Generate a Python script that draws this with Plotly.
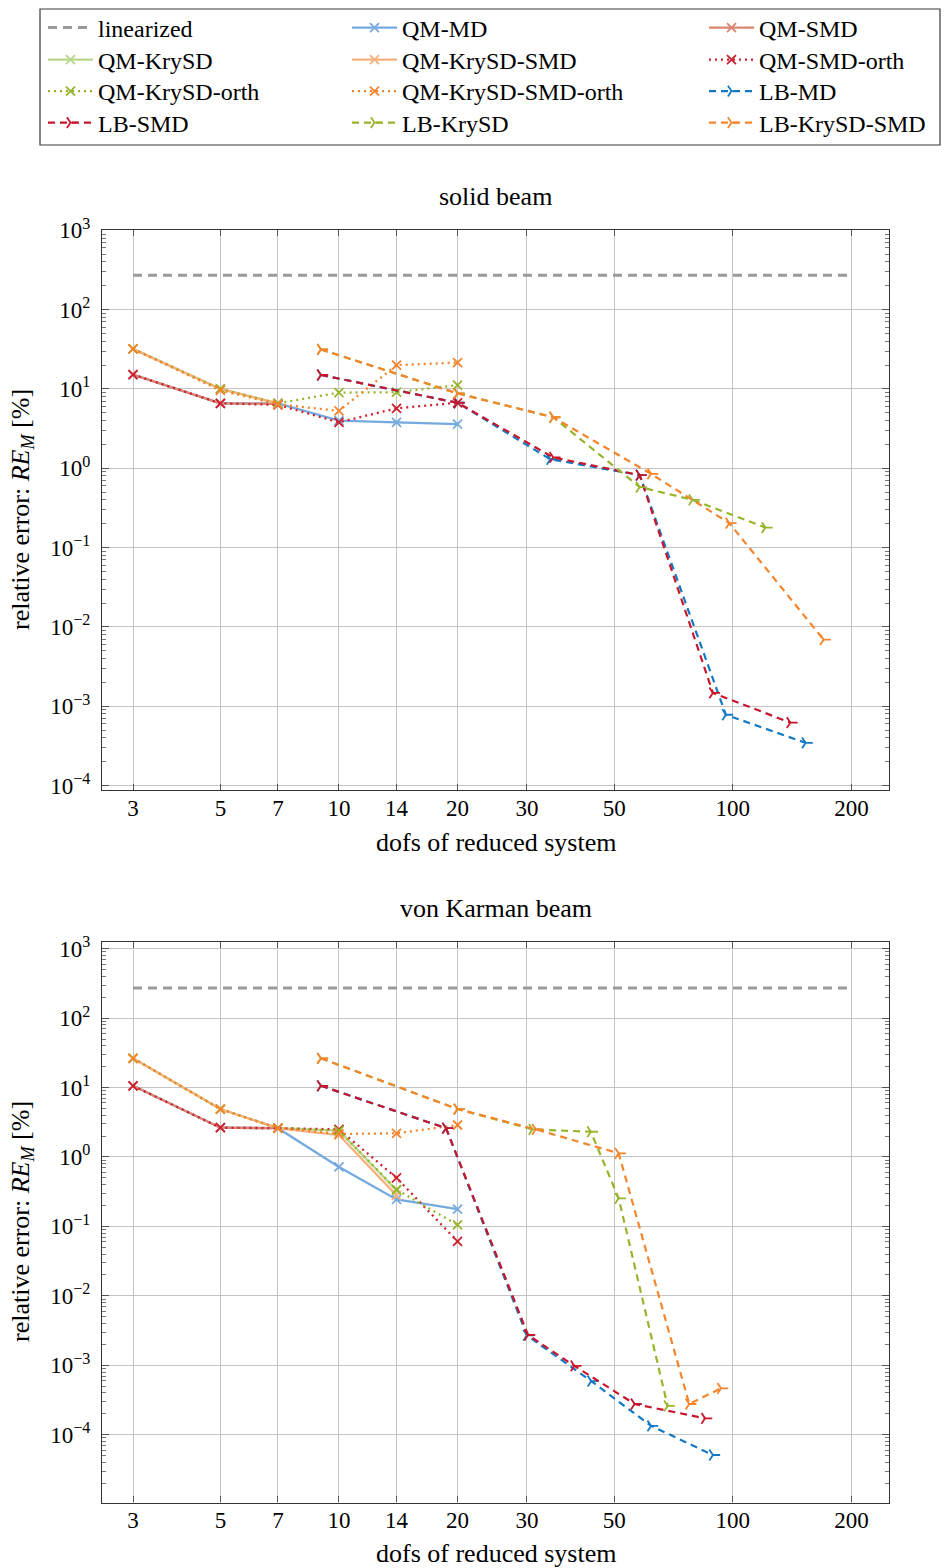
import plotly.graph_objects as go
from plotly.subplots import make_subplots

# ---------------- data ----------------
LIN_X = [3, 200]
solid_lin_y = [272, 272]
karman_lin_y = [272, 272]

# solid beam
solid_qm_md_x = [3, 5, 7, 10, 14, 20]
solid_qm_md_y = [15.2, 6.6, 6.6, 4.0, 3.8, 3.6]
solid_qm_smd_x = [3, 5, 7]
solid_qm_smd_y = [15.2, 6.6, 6.5]
solid_qm_krysd_x = [3, 5, 7]
solid_qm_krysd_y = [32, 10, 6.6]
solid_qm_krysd_smd_x = [3, 5, 7]
solid_qm_krysd_smd_y = [32, 10, 6.6]
solid_qm_smd_orth_x = [3, 5, 7, 10, 14, 20]
solid_qm_smd_orth_y = [15.2, 6.6, 6.3, 3.8, 5.7, 6.7]
solid_qm_krysd_orth_x = [3, 5, 7, 10, 14, 20]
solid_qm_krysd_orth_y = [32, 10, 6.6, 9.0, 9.1, 11.2]
solid_qm_krysd_smd_orth_x = [3, 5, 7, 10, 14, 20]
solid_qm_krysd_smd_orth_y = [32, 9.6, 6.4, 5.3, 20, 21.5]
solid_lb_md_x = [9, 20, 34.4, 58, 96, 153]
solid_lb_md_y = [15, 6.7, 1.30, 0.82, 7.8e-4, 3.45e-4]
solid_lb_smd_x = [9, 20, 35, 58, 89, 140]
solid_lb_smd_y = [15, 6.7, 1.37, 0.82, 1.47e-3, 6.2e-4]
solid_lb_krysd_x = [9, 20, 35, 58, 79, 121]
solid_lb_krysd_y = [31.5, 8.8, 4.4, 0.58, 0.40, 0.179]
solid_lb_krysd_smd_x = [9, 20, 35, 62, 98, 170]
solid_lb_krysd_smd_y = [31.5, 8.8, 4.4, 0.85, 0.203, 0.0069]

# von Karman beam
karman_qm_md_x = [3, 5, 7, 10, 14, 20]
karman_qm_md_y = [10.6, 2.64, 2.6, 0.72, 0.245, 0.177]
karman_qm_smd_x = [3, 5, 7]
karman_qm_smd_y = [10.6, 2.64, 2.6]
karman_qm_krysd_x = [3, 5, 7, 10, 14]
karman_qm_krysd_y = [26.4, 4.9, 2.6, 2.39, 0.33]
karman_qm_krysd_smd_x = [3, 5, 7, 10, 14]
karman_qm_krysd_smd_y = [26.4, 4.9, 2.6, 2.07, 0.28]
karman_qm_smd_orth_x = [3, 5, 7, 10, 14, 20]
karman_qm_smd_orth_y = [10.6, 2.64, 2.6, 2.5, 0.5, 0.061]
karman_qm_krysd_orth_x = [3, 5, 7, 10, 14, 20]
karman_qm_krysd_orth_y = [26.4, 4.9, 2.6, 2.4, 0.34, 0.105]
karman_qm_krysd_smd_orth_x = [3, 5, 7, 10, 14, 20]
karman_qm_krysd_smd_orth_y = [26.4, 4.9, 2.6, 2.15, 2.19, 2.89]
karman_lb_md_x = [9, 18.7, 30, 43.7, 62, 89]
karman_lb_md_y = [10.6, 2.6, 2.7e-3, 5.9e-4, 1.34e-4, 5.1e-5]
karman_lb_smd_x = [9, 18.7, 30.2, 39.6, 56.3, 85]
karman_lb_smd_y = [10.6, 2.6, 2.73e-3, 9.8e-4, 2.77e-4, 1.72e-4]
karman_lb_krysd_x = [9, 20, 31, 43.6, 51.3, 68.3]
karman_lb_krysd_y = [26.4, 4.9, 2.5, 2.31, 0.254, 2.6e-4]
karman_lb_krysd_smd_x = [9, 20, 31.6, 51.3, 77.5, 93.3]
karman_lb_krysd_smd_y = [26.4, 4.9, 2.5, 1.13, 2.77e-4, 4.66e-4]

X_TICKS = [3, 5, 7, 10, 14, 20, 30, 50, 100, 200]
Y_TICKS = [1e-4, 1e-3, 1e-2, 1e-1, 1, 10, 100, 1000]
Y_TICKTEXT = ["10<sup>\u22124</sup>", "10<sup>\u22123</sup>", "10<sup>\u22122</sup>",
              "10<sup>\u22121</sup>", "10<sup>0</sup>", "10<sup>1</sup>",
              "10<sup>2</sup>", "10<sup>3</sup>"]

# ---------------- styles ----------------
FONT = "Liberation Serif"
DASH = "7px,5px"
DOT = "2px,4px"

STYLES = {
    "linearized": dict(color="#9a9a9a", dash="9px,6px", width=3, symbol=None),
    "QM-MD": dict(color="#74aadf", dash="solid", width=2.3, symbol="x-thin"),
    "QM-SMD": dict(color="#dc8470", dash="solid", width=2.3, symbol="x-thin"),
    "QM-KrySD": dict(color="#b8d78c", dash="solid", width=2.3, symbol="x-thin"),
    "QM-KrySD-SMD": dict(color="#f6b07c", dash="solid", width=2.3, symbol="x-thin"),
    "QM-SMD-orth": dict(color="#d0202e", dash=DOT, width=2.3, symbol="x-thin"),
    "QM-KrySD-orth": dict(color="#96b52a", dash=DOT, width=2.3, symbol="x-thin"),
    "QM-KrySD-SMD-orth": dict(color="#f5852c", dash=DOT, width=2.3, symbol="x-thin"),
    "LB-MD": dict(color="#1479c4", dash=DASH, width=2.2, symbol="y-right"),
    "LB-SMD": dict(color="#c8162c", dash=DASH, width=2.2, symbol="y-right"),
    "LB-KrySD": dict(color="#96b52a", dash=DASH, width=2.2, symbol="y-right"),
    "LB-KrySD-SMD": dict(color="#f5852c", dash=DASH, width=2.2, symbol="y-right"),
}

solid = [
    ("linearized", LIN_X, solid_lin_y),
    ("QM-MD", solid_qm_md_x, solid_qm_md_y),
    ("QM-SMD", solid_qm_smd_x, solid_qm_smd_y),
    ("QM-KrySD", solid_qm_krysd_x, solid_qm_krysd_y),
    ("QM-KrySD-SMD", solid_qm_krysd_smd_x, solid_qm_krysd_smd_y),
    ("QM-SMD-orth", solid_qm_smd_orth_x, solid_qm_smd_orth_y),
    ("QM-KrySD-orth", solid_qm_krysd_orth_x, solid_qm_krysd_orth_y),
    ("QM-KrySD-SMD-orth", solid_qm_krysd_smd_orth_x, solid_qm_krysd_smd_orth_y),
    ("LB-MD", solid_lb_md_x, solid_lb_md_y),
    ("LB-SMD", solid_lb_smd_x, solid_lb_smd_y),
    ("LB-KrySD", solid_lb_krysd_x, solid_lb_krysd_y),
    ("LB-KrySD-SMD", solid_lb_krysd_smd_x, solid_lb_krysd_smd_y),
]
karman = [
    ("linearized", LIN_X, karman_lin_y),
    ("QM-MD", karman_qm_md_x, karman_qm_md_y),
    ("QM-SMD", karman_qm_smd_x, karman_qm_smd_y),
    ("QM-KrySD", karman_qm_krysd_x, karman_qm_krysd_y),
    ("QM-KrySD-SMD", karman_qm_krysd_smd_x, karman_qm_krysd_smd_y),
    ("QM-SMD-orth", karman_qm_smd_orth_x, karman_qm_smd_orth_y),
    ("QM-KrySD-orth", karman_qm_krysd_orth_x, karman_qm_krysd_orth_y),
    ("QM-KrySD-SMD-orth", karman_qm_krysd_smd_orth_x, karman_qm_krysd_smd_orth_y),
    ("LB-MD", karman_lb_md_x, karman_lb_md_y),
    ("LB-SMD", karman_lb_smd_x, karman_lb_smd_y),
    ("LB-KrySD", karman_lb_krysd_x, karman_lb_krysd_y),
    ("LB-KrySD-SMD", karman_lb_krysd_smd_x, karman_lb_krysd_smd_y),
]

W, H = 944, 1568
ML, MR, MT, MB = 102, 55, 229, 65
PW, PH = W - ML - MR, H - MT - MB


def px_x(x):
    return (x - ML) / PW


def px_y(y):
    return (H - MB - y) / PH


# legend grid: 3 columns, 4 rows (row-major, like the reference)
LEG_COL_X = [43, 347, 704]
LEG_ROW_Y = [28, 60, 91.5, 123]

fig = make_subplots(rows=2, cols=1)


def legend_id(i):
    return "legend" if i == 0 else f"legend{i + 1}"


def add(series, row, showlegend):
    for i, (name, xs, ys) in enumerate(series):
        st = STYLES[name]
        kw = dict(x=xs, y=ys, name=name, showlegend=showlegend, legend=legend_id(i),
                  line=dict(color=st["color"], dash=st["dash"], width=st["width"]))
        if st["symbol"] is None:
            kw["mode"] = "lines"
        else:
            kw["mode"] = "lines+markers"
            kw["marker"] = dict(symbol=st["symbol"], size=9, color=st["color"],
                                line=dict(color=st["color"], width=1.8))
        fig.add_trace(go.Scatter(**kw), row=row, col=1)


add(solid, 1, True)
add(karman, 2, False)

tick_font = dict(family=FONT, size=23, color="black")
minor_vals = [m * 10 ** k for k in range(-6, 4) for m in range(2, 10)]

common_x = dict(type="log", range=[0.3984, 2.3964], tickmode="array", tickvals=X_TICKS,
                ticktext=[str(v) for v in X_TICKS], showgrid=True, gridcolor="#c4c4c4",
                gridwidth=1, ticks="inside", ticklen=6, tickcolor="#555", mirror="allticks",
                showline=True, linecolor="#333", linewidth=1.2, tickfont=tick_font,
                ticklabelstandoff=-3, zeroline=False)
common_y = dict(type="log", tickmode="array", tickvals=Y_TICKS, ticktext=Y_TICKTEXT,
                showgrid=True, gridcolor="#c4c4c4", gridwidth=1, ticks="inside", ticklen=7,
                tickcolor="#555", mirror="allticks", showline=True, linecolor="#333",
                linewidth=1.2, tickfont=tick_font, ticklabelstandoff=6,
                minor=dict(tickmode="array", tickvals=minor_vals, ticks="inside", ticklen=4,
                           tickcolor="#777", showgrid=False),
                zeroline=False)

fig.update_xaxes(**common_x)
fig.update_yaxes(**common_y)
fig.update_yaxes(range=[-4.057, 3.011], domain=[px_y(790), px_y(229.5)], row=1, col=1)
fig.update_yaxes(range=[-4.9765, 3.0965], domain=[px_y(1502.5), px_y(942)], row=2, col=1)

annotations = [
    dict(text="solid beam", x=px_x(495.5), y=px_y(196)),
    dict(text="von Karman beam", x=px_x(495.5), y=px_y(909)),
    dict(text="dofs of reduced system", x=px_x(495.5), y=px_y(842)),
    dict(text="dofs of reduced system", x=px_x(495.5), y=px_y(1553)),
    dict(text="relative error: <i>RE</i><sub><i>M</i></sub> [%]", x=px_x(22), y=px_y(510),
         textangle=-90),
    dict(text="relative error: <i>RE</i><sub><i>M</i></sub> [%]", x=px_x(22), y=px_y(1222),
         textangle=-90),
]
for a in annotations:
    a.update(xref="paper", yref="paper", showarrow=False, xanchor="center", yanchor="middle",
             font=dict(family=FONT, size=26, color="black"))

legends = {}
for i in range(len(solid)):
    r, c = divmod(i, 3)
    legends[legend_id(i)] = dict(
        x=px_x(LEG_COL_X[c]), y=px_y(LEG_ROW_Y[r]), xanchor="left", yanchor="middle",
        orientation="v", bgcolor="rgba(0,0,0,0)", borderwidth=0, itemwidth=45,
        font=dict(family=FONT, size=24, color="black"))

fig.update_layout(
    width=W, height=H,
    margin=dict(l=ML, r=MR, t=MT, b=MB, autoexpand=False),
    paper_bgcolor="white", plot_bgcolor="white",
    font=dict(family=FONT, size=22, color="black"),
    annotations=annotations,
    shapes=[dict(type="rect", xref="paper", yref="paper", x0=px_x(40), x1=px_x(940),
                 y0=px_y(145), y1=px_y(9), line=dict(color="#3a3a3a", width=1.2),
                 fillcolor="rgba(0,0,0,0)", layer="above")],
    **legends,
)

fig.write_html("out.html")
